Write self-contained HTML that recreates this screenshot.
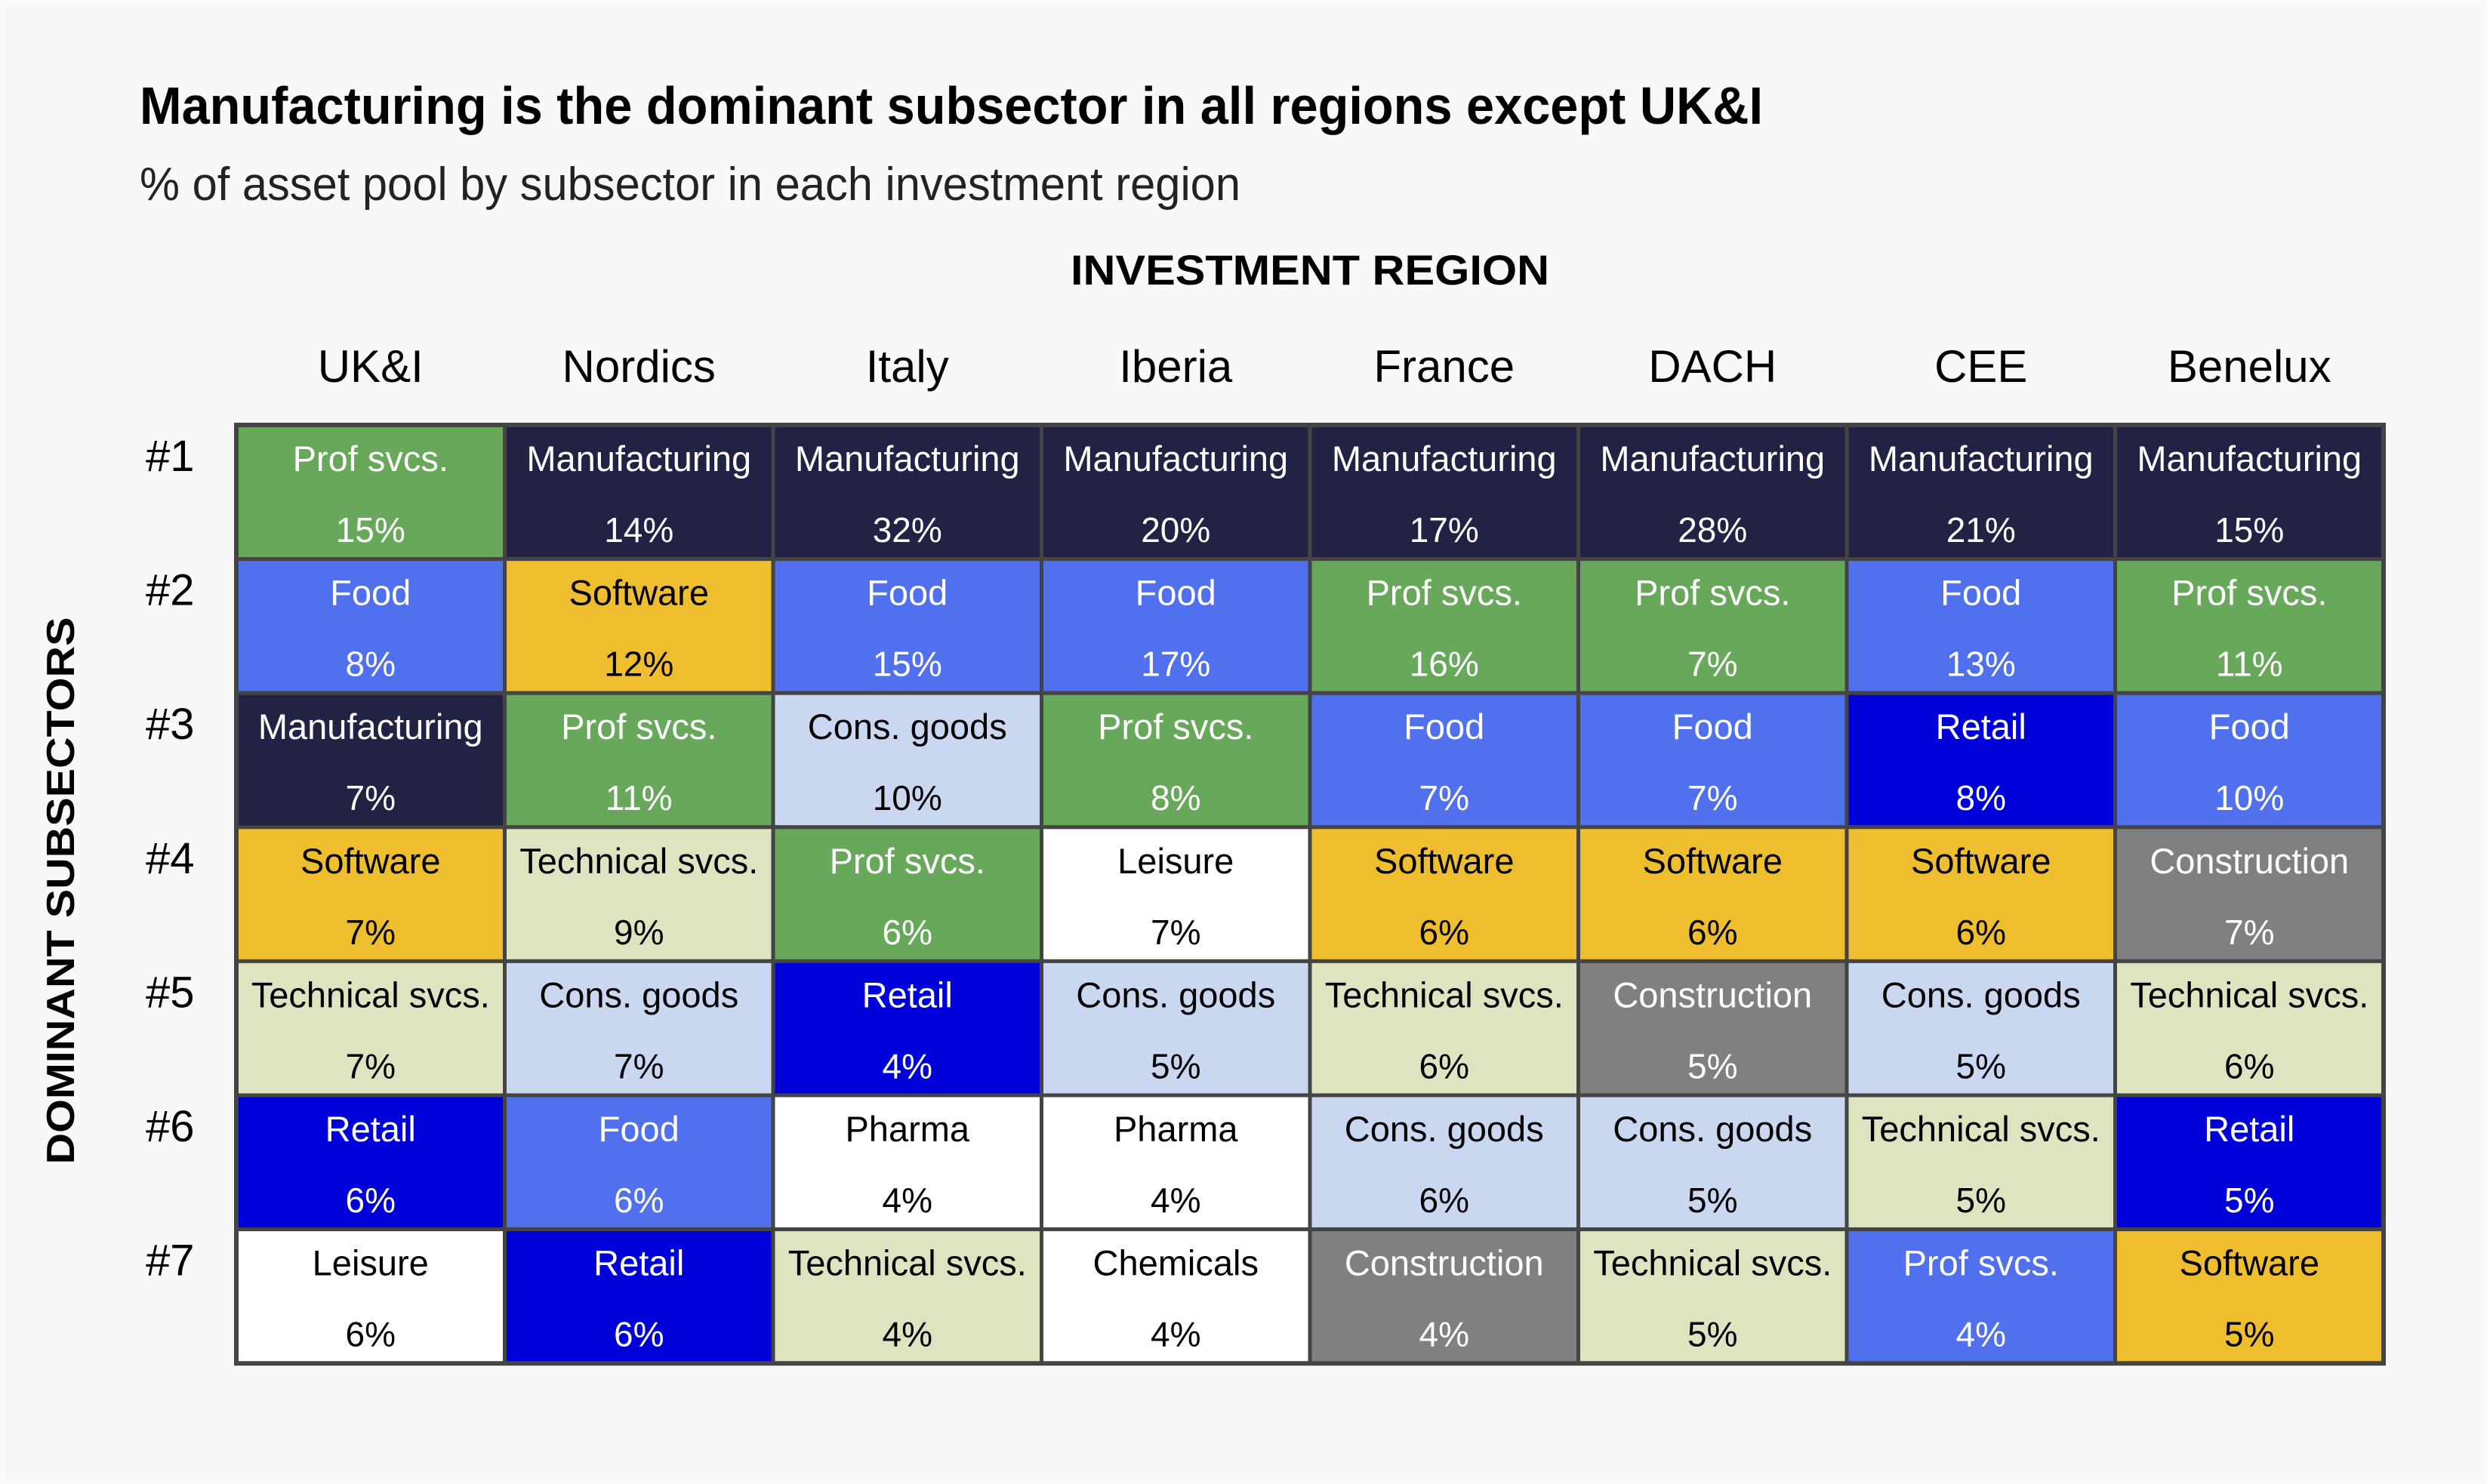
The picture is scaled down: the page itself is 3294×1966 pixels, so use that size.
<!DOCTYPE html>
<html><head><meta charset="utf-8"><style>
html,body{margin:0;padding:0;background:#fafafa;}
svg{display:block;}
text{font-family:"Liberation Sans",sans-serif;}
</style></head><body>
<svg id="chart" width="3294" height="1966" viewBox="0 0 3294 1966">
<rect x="6" y="6" width="3282" height="1954" fill="#f8f8f8"/>
<text x="185" y="164" font-size="70" font-weight="bold" textLength="2150" lengthAdjust="spacingAndGlyphs">Manufacturing is the dominant subsector in all regions except UK&amp;I</text>
<text x="185" y="265" font-size="62" fill="#222" textLength="1458" lengthAdjust="spacingAndGlyphs">% of asset pool by subsector in each investment region</text>
<text x="1735" y="377" font-size="56" font-weight="bold" text-anchor="middle" textLength="634" lengthAdjust="spacingAndGlyphs">INVESTMENT REGION</text>
<text transform="translate(98,1180) rotate(-90)" font-size="52" font-weight="bold" text-anchor="middle" textLength="725" lengthAdjust="spacingAndGlyphs">DOMINANT SUBSECTORS</text>
<g id="grid"></g>
</svg>
<script>
const regions = ["UK&I","Nordics","Italy","Iberia","France","DACH","CEE","Benelux"];
const ranks = ["#1","#2","#3","#4","#5","#6","#7"];
const subsectors = [
 ["Prof svcs.","Food","Manufacturing","Software","Technical svcs.","Retail","Leisure"],
 ["Manufacturing","Software","Prof svcs.","Technical svcs.","Cons. goods","Food","Retail"],
 ["Manufacturing","Food","Cons. goods","Prof svcs.","Retail","Pharma","Technical svcs."],
 ["Manufacturing","Food","Prof svcs.","Leisure","Cons. goods","Pharma","Chemicals"],
 ["Manufacturing","Prof svcs.","Food","Software","Technical svcs.","Cons. goods","Construction"],
 ["Manufacturing","Prof svcs.","Food","Software","Construction","Cons. goods","Technical svcs."],
 ["Manufacturing","Food","Retail","Software","Cons. goods","Technical svcs.","Prof svcs."],
 ["Manufacturing","Prof svcs.","Food","Construction","Technical svcs.","Retail","Software"]
];
const shares = [
 [15,8,7,7,7,6,6],
 [14,12,11,9,7,6,6],
 [32,15,10,6,4,4,4],
 [20,17,8,7,5,4,4],
 [17,16,7,6,6,6,4],
 [28,7,7,6,5,5,5],
 [21,13,8,6,5,5,4],
 [15,11,10,7,6,5,5]
];
const palette = {
 "Manufacturing":["#212244","#fff"],"Prof svcs.":["#67a85a","#fff"],"Food":["#5170ee","#fff"],
 "Software":["#efbe2f","#000"],"Technical svcs.":["#dde4bf","#000"],"Cons. goods":["#c9d8f0","#000"],
 "Retail":["#0000d8","#fff"],"Construction":["#808080","#fff"],"Leisure":["#ffffff","#000"],
 "Pharma":["#ffffff","#000"],"Chemicals":["#ffffff","#000"]
};
const overrides = {"6-6":["#5170ee","#fff"]};
const NS="http://www.w3.org/2000/svg";
const g=document.getElementById('grid');
const X0=313,Y0=563,CW=355.5,RH=177.6;
const xPos=i=>X0+i*CW, yPos=j=>Y0+j*RH;
function mk(tag,attrs){const e=document.createElementNS(NS,tag);for(const k in attrs)e.setAttribute(k,attrs[k]);g.appendChild(e);return e;}
regions.forEach((r,i)=>{
  const t=mk('text',{x:xPos(i)+CW/2,y:506,'font-size':60,'text-anchor':'middle'});
  t.textContent=r;
  
  
});
ranks.forEach((r,j)=>{
  const t=mk('text',{x:193,y:yPos(j)+61,'font-size':58});
  t.textContent=r;
  
  
});
subsectors.forEach((col,i)=>{
  col.forEach((name,j)=>{
    const c=overrides[i+"-"+j]||palette[name]||["#fff","#000"];
    const rc=mk('rect',{x:xPos(i),y:yPos(j),width:CW,height:RH,fill:c[0],stroke:'#444','stroke-width':5});
    
    
    const t1=mk('text',{x:xPos(i)+CW/2,y:yPos(j)+61,'font-size':47,'text-anchor':'middle',fill:c[1]});
    t1.textContent=name;
    
    
    const t2=mk('text',{x:xPos(i)+CW/2,y:yPos(j)+155,'font-size':46,'text-anchor':'middle',fill:c[1]});
    t2.textContent=shares[i][j]+"%";
    
    
  });
});
const ob=mk('rect',{x:X0,y:Y0,width:CW*8,height:RH*7,fill:'none',stroke:'#444','stroke-width':6});


</script>
</body></html>
